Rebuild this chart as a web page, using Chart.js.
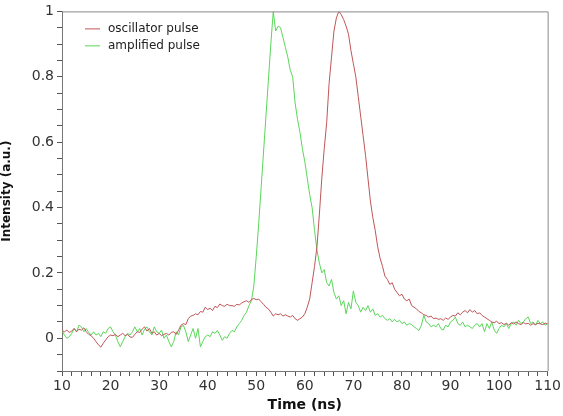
<!DOCTYPE html>
<html>
<head>
<meta charset="utf-8">
<script src="https://cdn.jsdelivr.net/npm/chart.js@4.4.1/dist/chart.umd.min.js"></script>
<style>
    html, body { margin: 0; padding: 0; background: #fff; }
    #wrap { width: 563px; height: 416px; }
</style>
</head>
<body>
<div id="wrap"><canvas id="pulse-chart"></canvas></div>
<script>
// sampling grid of the scope trace, ns
const timeStart = 10;
const timeStep = 0.5;

// oscillator pulse, 10 .. 110 ns, one row = 5 ns
const oscillator = [
    0.024, 0.02, 0.025, 0.018, 0.022, 0.03, 0.02, 0.028, 0.025, 0.032,
    0.02, 0.012, 0.008, 0.0, -0.01, -0.02, -0.027, -0.015, -0.005, 0.005,
    0.01, 0.008, 0.012, 0.005, 0.01, 0.015, 0.008, 0.012, 0.004, 0.003,
    0.012, 0.02, 0.018, 0.028, 0.035, 0.022, 0.03, 0.015, 0.02, 0.01,
    0.015, 0.008, 0.012, 0.015, 0.01, 0.018, 0.02, 0.012, 0.025, 0.04,
    0.045, 0.042, 0.06, 0.068, 0.07, 0.075, 0.072, 0.082, 0.08, 0.095,
    0.088, 0.092, 0.085, 0.098, 0.094, 0.105, 0.1, 0.098, 0.104, 0.1,
    0.1, 0.098, 0.104, 0.102, 0.108, 0.112, 0.115, 0.11, 0.118, 0.122,
    0.118, 0.12, 0.112, 0.104, 0.095, 0.09, 0.08, 0.068, 0.075, 0.072,
    0.075, 0.068, 0.072, 0.068, 0.065, 0.07, 0.06, 0.055, 0.06, 0.065,
    0.075, 0.095, 0.12, 0.17, 0.22, 0.28, 0.38, 0.49, 0.58, 0.66,
    0.78, 0.86, 0.94, 0.98, 1.0, 0.99, 0.975, 0.955, 0.93, 0.88,
    0.84, 0.8, 0.74, 0.68, 0.62, 0.56, 0.49, 0.42, 0.37, 0.33,
    0.28, 0.245, 0.22, 0.19, 0.18, 0.165, 0.17, 0.15, 0.14, 0.13,
    0.135, 0.12, 0.115, 0.12, 0.1, 0.095, 0.09, 0.082, 0.078, 0.072,
    0.07, 0.065, 0.068, 0.06, 0.062, 0.058, 0.06, 0.055, 0.062, 0.058,
    0.065, 0.07, 0.068, 0.078, 0.072, 0.08, 0.085, 0.078, 0.088, 0.08,
    0.085, 0.075, 0.078, 0.07, 0.065, 0.06, 0.055, 0.05, 0.048, 0.052,
    0.045, 0.048, 0.042, 0.046, 0.04, 0.048, 0.044, 0.05, 0.045, 0.042,
    0.048, 0.044, 0.046, 0.04, 0.045, 0.042, 0.046, 0.044, 0.042, 0.046,
    0.044
];

// amplified pulse, same grid
const amplified = [
    0.024, 0.01, 0.0, 0.005, 0.015, 0.03, 0.02, 0.04, 0.035, 0.02,
    0.03, 0.018, 0.01, 0.02, 0.01, 0.015, 0.005, 0.02, 0.015, 0.03,
    0.035, 0.02, 0.01, -0.01, -0.026, -0.01, 0.005, 0.015, 0.01, 0.02,
    0.035, 0.02, 0.03, 0.01, 0.028, 0.035, 0.02, 0.01, 0.035, 0.02,
    0.015, 0.025, 0.0, 0.01, -0.01, -0.026, -0.01, 0.02, 0.01, 0.035,
    0.04, 0.02, -0.01, 0.01, 0.03, 0.0, 0.03, -0.026, -0.01, 0.005,
    0.01, 0.005, 0.02, 0.015, 0.024, 0.01, -0.006, 0.005, 0.0, 0.015,
    0.024, 0.02, 0.035, 0.045, 0.055, 0.07, 0.08, 0.1, 0.115, 0.16,
    0.25, 0.35, 0.46, 0.57, 0.68, 0.79, 0.9, 1.0, 0.94, 0.955,
    0.95, 0.92, 0.89, 0.86, 0.82, 0.8, 0.72, 0.67, 0.63, 0.58,
    0.54, 0.49, 0.44, 0.4, 0.33, 0.27, 0.23, 0.2, 0.21, 0.17,
    0.16, 0.18, 0.14, 0.12, 0.13, 0.1, 0.115, 0.075, 0.11, 0.09,
    0.145, 0.11, 0.1, 0.08, 0.095, 0.085, 0.1, 0.08, 0.09, 0.07,
    0.075, 0.065, 0.07, 0.06, 0.055, 0.06, 0.05, 0.058, 0.05, 0.055,
    0.045, 0.05, 0.04, 0.045, 0.042, 0.035, 0.03, 0.024, 0.04, 0.07,
    0.05, 0.045, 0.035, 0.04, 0.035, 0.045, 0.03, 0.025, 0.04, 0.035,
    0.05, 0.055, 0.065, 0.045, 0.04, 0.05, 0.035, 0.04, 0.035, 0.03,
    0.04, 0.045, 0.035, 0.045, 0.02, 0.045, 0.03, 0.05, 0.025, 0.015,
    0.03, 0.04, 0.035, 0.045, 0.03, 0.045, 0.05, 0.04, 0.055, 0.045,
    0.05, 0.06, 0.065, 0.045, 0.05, 0.04, 0.055, 0.045, 0.05, 0.04,
    0.045
];

const seriesLabels = ["oscillator pulse", "amplified pulse"];
const seriesColours = ["#bf5658", "#5ad65a"];

const FONT = "'DejaVu Sans', Verdana, sans-serif";

function toPoints(values) {
    return values.map((v, i) => ({x: timeStart + i * timeStep, y: v}));
}

function isMultiple(v, step) {
    const q = v / step;
    return Math.abs(q - Math.round(q)) < 1e-6;
}

// frame round the plot area (top and right edges)
const framePlugin = {
    id: "frame",
    afterDraw(chart) {
        const {ctx, chartArea: a} = chart;
        ctx.save();
        ctx.strokeStyle = "#8a8a8a";
        ctx.lineWidth = 1;
        ctx.beginPath();
        ctx.moveTo(a.left, a.top + 0.5);
        ctx.lineTo(a.right + 0.5, a.top + 0.5);
        ctx.lineTo(a.right + 0.5, a.bottom);
        ctx.stroke();
        ctx.restore();
    }
};

// legend drawn inside the plot, top left
const insideLegend = {
    id: "insideLegend",
    afterDraw(chart) {
        const {ctx, chartArea: a} = chart;
        ctx.save();
        ctx.font = "12px " + FONT;
        ctx.textBaseline = "middle";
        chart.data.datasets.forEach((ds, i) => {
            const y = a.top + 17 + i * 17;
            ctx.strokeStyle = ds.borderColor;
            ctx.lineWidth = 1;
            ctx.beginPath();
            ctx.moveTo(a.left + 23, y + 0.5);
            ctx.lineTo(a.left + 38, y + 0.5);
            ctx.stroke();
            ctx.fillStyle = "#222";
            ctx.fillText(ds.label, a.left + 46, y);
        });
        ctx.restore();
    }
};

function makeDataset(i, values) {
    return {
        label: seriesLabels[i],
        data: toPoints(values),
        borderColor: seriesColours[i],
        borderWidth: 1,
        pointRadius: 0,
        tension: 0,
        fill: false
    };
}

function buildChart() {
    const canvas = document.getElementById("pulse-chart");
    return new Chart(canvas, {
        type: "line",
        data: {
            datasets: [makeDataset(0, oscillator), makeDataset(1, amplified)]
        },
        options: {
            responsive: true,
            maintainAspectRatio: false,
            animation: false,
            layout: {padding: {top: 8, right: 12, bottom: 0, left: 0}},
            plugins: {legend: {display: false}, tooltip: {enabled: false}},
            scales: {
                x: {
                    type: "linear",
                    min: 10,
                    max: 110,
                    grid: {drawOnChartArea: false, tickLength: 5, color: "#555"},
                    border: {color: "#777"},
                    ticks: {
                        stepSize: 2,
                        autoSkip: false,
                        maxRotation: 0,
                        padding: 2,
                        color: "#333",
                        font: {family: FONT, size: 14},
                        callback: v => isMultiple(v, 10) ? String(v) : ""
                    },
                    title: {
                        display: true,
                        text: "Time (ns)",
                        color: "#111",
                        padding: {top: 0, bottom: 2},
                        font: {family: FONT, size: 14, weight: "bold"}
                    },
                    afterFit(scale) { scale.height = 45; }
                },
                y: {
                    min: -0.1,
                    max: 1,
                    grid: {drawOnChartArea: false, tickLength: 5, color: "#555"},
                    border: {color: "#777"},
                    ticks: {
                        stepSize: 0.05,
                        autoSkip: false,
                        padding: 3,
                        color: "#333",
                        font: {family: FONT, size: 14},
                        callback: v => isMultiple(v, 0.2) ? String(Math.round(v * 10) / 10) : ""
                    },
                    title: {
                        display: true,
                        text: "Intensity (a.u.)",
                        color: "#111",
                        padding: {top: 0, bottom: 3},
                        font: {family: FONT, size: 12, weight: "bold"}
                    },
                    afterFit(scale) { scale.width = 62; }
                }
            }
        },
        plugins: [framePlugin, insideLegend]
    });
}

buildChart();
</script>
</body>
</html>
